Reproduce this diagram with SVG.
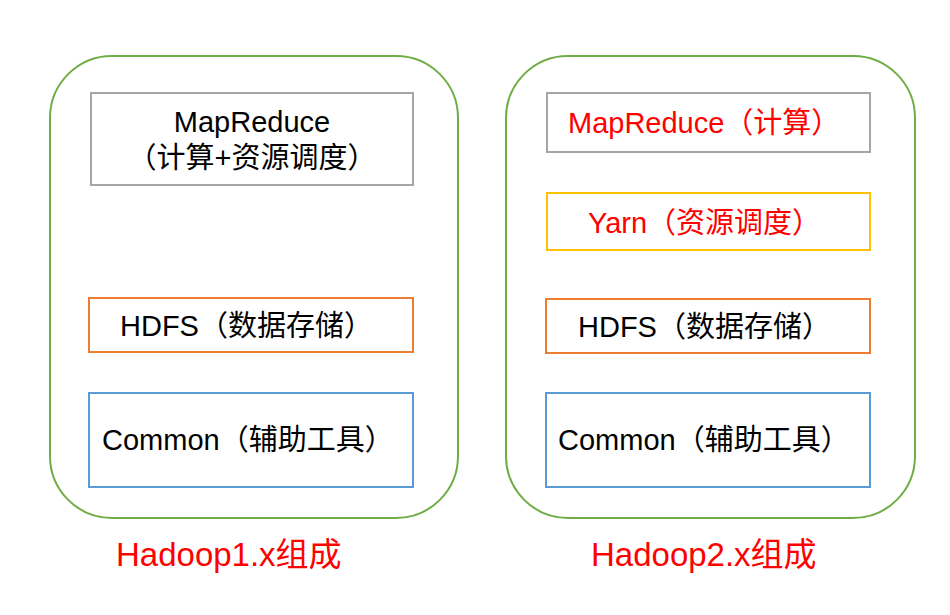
<svg xmlns="http://www.w3.org/2000/svg" width="950" height="615" viewBox="0 0 950 615">
<style>
text{font-family:"Liberation Sans","Noto Sans CJK SC",sans-serif;font-size:29px;fill:#000}
.red{fill:#FF0000}
.cap{font-size:33px;fill:#FF0000}
.outer{fill:none;stroke:#70AD47;stroke-width:2}
.gray{fill:#fff;stroke:#A5A5A5;stroke-width:2}
.orange{fill:#fff;stroke:#ED7D31;stroke-width:2}
.yellow{fill:#fff;stroke:#FFC000;stroke-width:2}
.blue{fill:#fff;stroke:#5B9BD5;stroke-width:2}
</style>
<rect width="950" height="615" fill="#fff"/>
<g id="hadoop1">
<rect class="outer" x="50" y="56" width="408" height="462" rx="62" ry="62"/>
</g>
<g id="hadoop2">
<rect class="outer" x="506" y="56" width="409" height="462" rx="62" ry="62"/>
</g>
<g id="h1-mapreduce">
<rect class="gray" x="91" y="93" width="322" height="92"/>
<text x="252" y="132" text-anchor="middle">MapReduce</text>
<text x="252" y="168" text-anchor="middle">（计算+资源调度）</text>
</g>
<g id="h1-hdfs">
<rect class="orange" x="89" y="298" width="324" height="54"/>
<text x="120" y="336">HDFS（数据存储）</text>
</g>
<g id="h1-common">
<rect class="blue" x="89" y="393" width="324" height="94"/>
<text x="102" y="450">Common（辅助工具）</text>
</g>
<g id="h2-mapreduce">
<rect class="gray" x="547" y="93" width="323" height="59"/>
<text class="red" x="568" y="133">MapReduce（计算）</text>
</g>
<g id="h2-yarn">
<rect class="yellow" x="547" y="193" width="323" height="57"/>
<text class="red" x="588" y="233">Yarn（资源调度）</text>
</g>
<g id="h2-hdfs">
<rect class="orange" x="546" y="299" width="324" height="54"/>
<text x="578" y="337">HDFS（数据存储）</text>
</g>
<g id="h2-common">
<rect class="blue" x="546" y="393" width="324" height="94"/>
<text x="558" y="450">Common（辅助工具）</text>
</g>
<g id="label1"><text class="cap" x="116" y="566">Hadoop1.x组成</text></g>
<g id="label2"><text class="cap" x="591" y="566">Hadoop2.x组成</text></g>
<g id="connectors"></g>
</svg>
